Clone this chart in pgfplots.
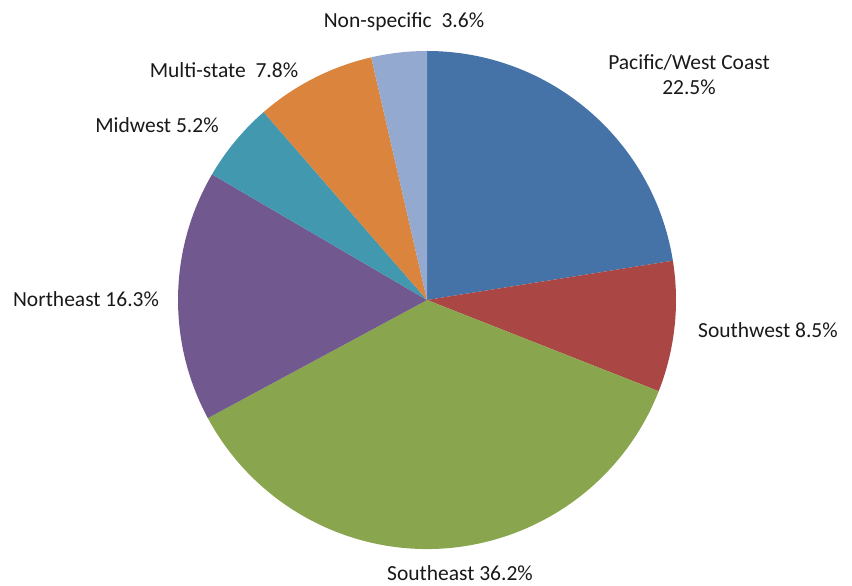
\documentclass[border=0pt]{standalone}
\usepackage{pgfplots}
\usepackage{pgfplotstable}
\pgfplotsset{compat=1.18}
\usepackage{fontspec}
\setmainfont{Carlito}
\definecolor{cA}{HTML}{4573A7}
\definecolor{cB}{HTML}{AA4643}
\definecolor{cC}{HTML}{89A54E}
\definecolor{cD}{HTML}{71588F}
\definecolor{cE}{HTML}{4198AF}
\definecolor{cF}{HTML}{DB843D}
\definecolor{cG}{HTML}{93A9CF}
\pgfplotstableread{
region value color
Pacific 22.5 cA
Southwest 8.5 cB
Southeast 36.2 cC
Northeast 16.3 cD
Midwest 5.2 cE
Multistate 7.8 cF
Nonspecific 3.6 cG
}\piedata
\begin{document}
\begin{tikzpicture}
\useasboundingbox (0,0) rectangle (852bp,586bp);
\begin{axis}[scale only axis, width=852bp, height=586bp,
  xmin=0, xmax=852, ymin=0, ymax=586, hide axis, clip=false]
\def\cum{0}
\def\tot{100.1}
\pgfplotsforeachungrouped \i in {0,...,6} {
  \pgfplotstablegetelem{\i}{value}\of\piedata \let\v\pgfplotsretval
  \pgfplotstablegetelem{\i}{color}\of\piedata \let\c\pgfplotsretval
  \pgfmathsetmacro\sa{90-(\cum/\tot)*360}
  \pgfmathsetmacro\ea{90-((\cum+\v)/\tot)*360}
  \edef\temp{\noexpand\fill[\c] (axis cs:427,286) -- ++(\sa:249bp) arc[start angle=\sa, end angle=\ea, radius=249bp] -- cycle;}
  \temp
  \pgfmathsetmacro\cum{\cum+\v}
}
\tikzset{lbl/.style={font=\fontsize{21.5bp}{25bp}\selectfont, text=black!90, inner sep=0pt, align=center}}
\node[lbl] at (axis cs:404,564) {Non-specific~ 3.6\%};
\node[lbl] at (axis cs:689,511) {Pacific/West Coast\\22.5\%};
\node[lbl] at (axis cs:768,256) {Southwest 8.5\%};
\node[lbl] at (axis cs:460,13) {Southeast 36.2\%};
\node[lbl] at (axis cs:86,287) {Northeast 16.3\%};
\node[lbl] at (axis cs:157,461) {Midwest 5.2\%};
\node[lbl] at (axis cs:224,516) {Multi-state~ 7.8\%};
\end{axis}
\end{tikzpicture}
\end{document}
